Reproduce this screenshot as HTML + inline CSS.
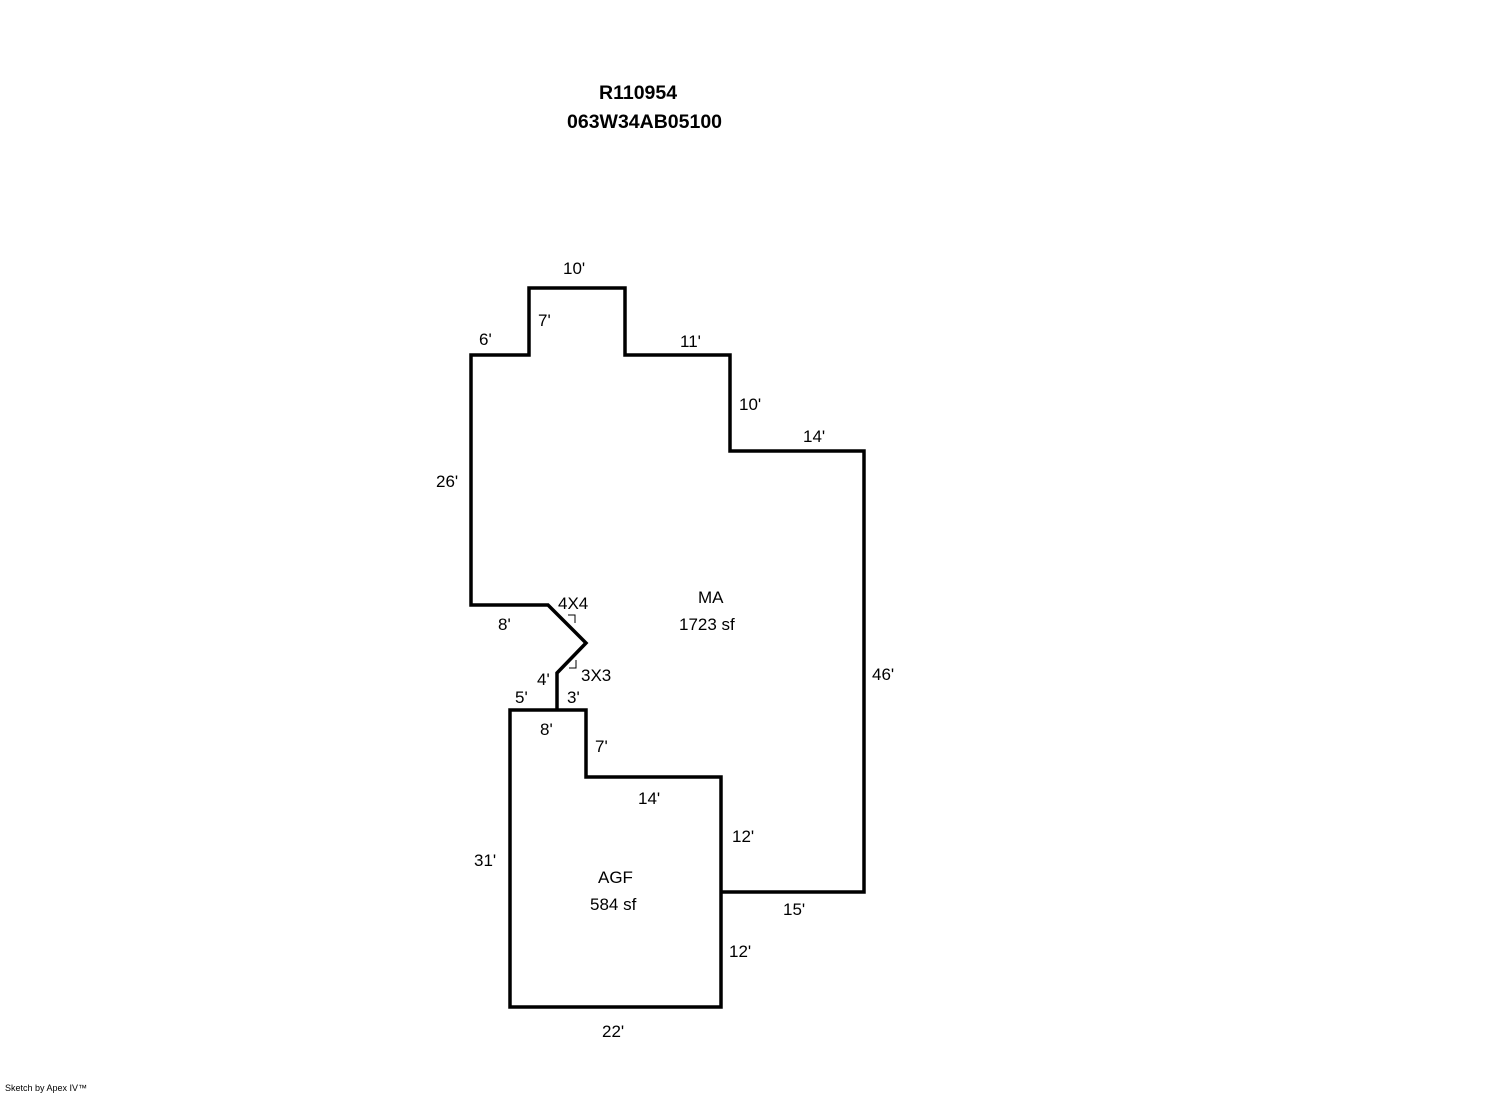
<!DOCTYPE html>
<html><head><style>
body{margin:0;background:#fff;}
svg text{font-family:"Liberation Sans",Arial,sans-serif;font-size:17px;fill:#000;}
</style></head><body>
<svg width="1492" height="1094" xmlns="http://www.w3.org/2000/svg">
<text x="599" y="99" style="font-weight:bold;font-size:19.5px">R110954</text>
<text x="567" y="128" style="font-weight:bold;font-size:19.5px">063W34AB05100</text>
<g fill="none" stroke="#000" stroke-width="3.5" stroke-linejoin="miter">
<polyline points="721,892 864,892 864,451 730,451 730,355 625,355 625,288 529,288 529,355 471,355 471,605 548,605 586,643 557,673 557,710"/>
<polygon points="510,710 586,710 586,777 721,777 721,1007 510,1007"/>
</g>
<g fill="none" stroke="#000" stroke-width="1">
<polyline points="568,615 575,615 575,623"/>
<polyline points="569,668 576,668 576,660"/>
</g>
<text x="563" y="274">10'</text>
<text x="538" y="326">7'</text>
<text x="479" y="345">6'</text>
<text x="680" y="347">11'</text>
<text x="739" y="410">10'</text>
<text x="803" y="442">14'</text>
<text x="436" y="487">26'</text>
<text x="558" y="609">4X4</text>
<text x="698" y="603">MA</text>
<text x="679" y="630">1723 sf</text>
<text x="498" y="630">8'</text>
<text x="872" y="680">46'</text>
<text x="581" y="681">3X3</text>
<text x="537" y="685">4'</text>
<text x="515" y="703">5'</text>
<text x="567" y="703">3'</text>
<text x="540" y="735">8'</text>
<text x="595" y="752">7'</text>
<text x="638" y="804">14'</text>
<text x="732" y="842">12'</text>
<text x="474" y="866">31'</text>
<text x="598" y="883">AGF</text>
<text x="590" y="910">584 sf</text>
<text x="783" y="915">15'</text>
<text x="729" y="957">12'</text>
<text x="602" y="1037">22'</text>
<text x="5" y="1091" style="font-size:9px">Sketch by Apex IV™</text>
</svg>
</body></html>
